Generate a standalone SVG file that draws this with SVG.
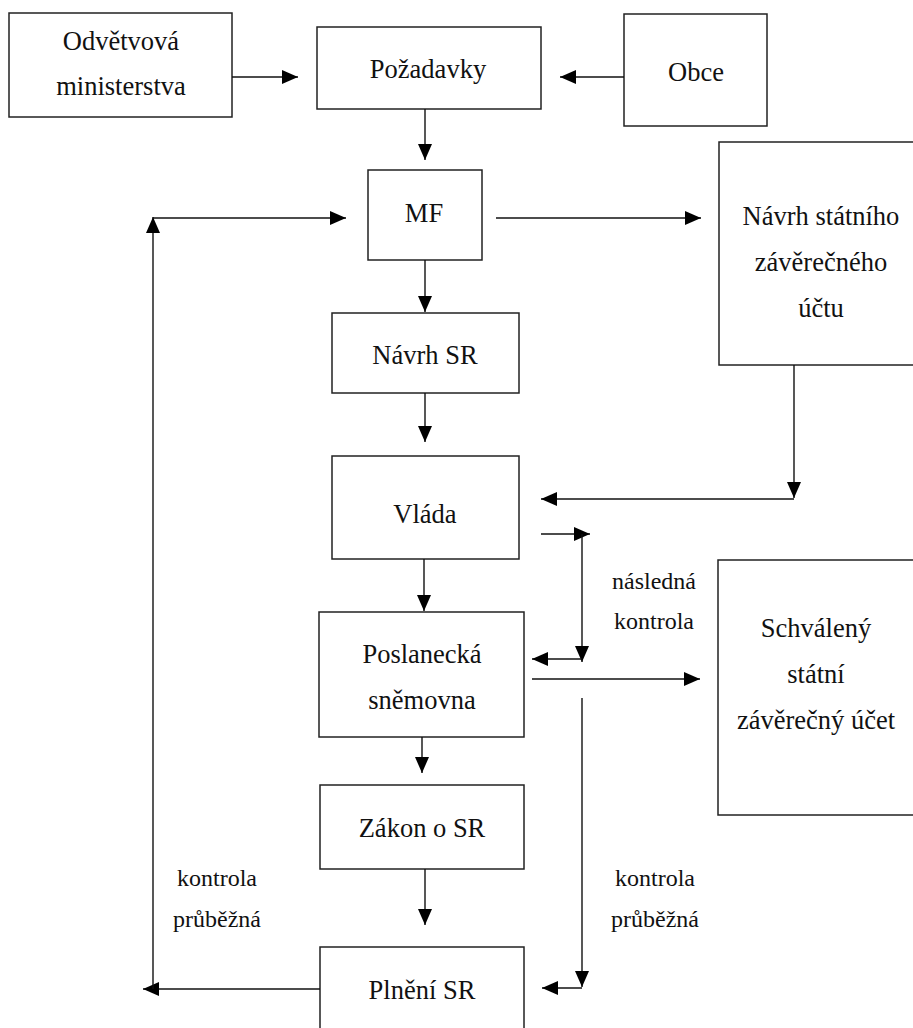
<svg xmlns="http://www.w3.org/2000/svg" width="913" height="1028" viewBox="0 0 913 1028">
  <style>
    .box { fill: #fff; stroke: #222; stroke-width: 1.5; }
    .t { font-size: 26.5px; fill: #111; text-anchor: middle; }
    .l { font-size: 24px; fill: #111; text-anchor: middle; }
    .c { stroke: #111; stroke-width: 1.4; fill: none; }
    .a { marker-end: url(#arr); }
  </style>
  <defs>
    <marker id="arr" markerUnits="userSpaceOnUse" markerWidth="16" markerHeight="14" refX="16" refY="7" orient="auto" viewBox="0 0 16 14">
      <path d="M0,0 L16,7 L0,14 z" fill="#000"/>
    </marker>
  </defs>
  <rect width="913" height="1028" fill="#fff"/>
  <g font-family="Liberation Serif, DejaVu Serif, serif">
  <g id="n-odvetvova">
    <rect class="box" x="9" y="13" width="223" height="104"/>
    <text class="t" x="121" y="50">Odvětvová</text>
    <text class="t" x="121" y="95">ministerstva</text>
  </g>
  <g id="n-pozadavky">
    <rect class="box" x="317" y="27" width="224" height="82"/>
    <text class="t" x="428" y="78">Požadavky</text>
  </g>
  <g id="n-obce">
    <rect class="box" x="624" y="14" width="143" height="112"/>
    <text class="t" x="696" y="81">Obce</text>
  </g>
  <g id="n-mf">
    <rect class="box" x="368" y="170" width="114" height="90"/>
    <text class="t" x="424" y="222">MF</text>
  </g>
  <g id="n-navrh-zu">
    <rect class="box" x="719" y="142" width="210" height="223"/>
    <text class="t" x="821" y="225">Návrh státního</text>
    <text class="t" x="821" y="271">závěrečného</text>
    <text class="t" x="821" y="317">účtu</text>
  </g>
  <g id="n-navrh-sr">
    <rect class="box" x="332" y="313" width="187" height="80"/>
    <text class="t" x="425" y="364">Návrh SR</text>
  </g>
  <g id="n-vlada">
    <rect class="box" x="332" y="456" width="187" height="103"/>
    <text class="t" x="425" y="523">Vláda</text>
  </g>
  <g id="n-poslanecka">
    <rect class="box" x="319" y="612" width="205" height="125"/>
    <text class="t" x="422" y="663">Poslanecká</text>
    <text class="t" x="422" y="709">sněmovna</text>
  </g>
  <g id="n-schvaleny">
    <rect class="box" x="718" y="560" width="210" height="255"/>
    <text class="t" x="816" y="637">Schválený</text>
    <text class="t" x="816" y="683">státní</text>
    <text class="t" x="816" y="729">závěrečný účet</text>
  </g>
  <g id="n-zakon">
    <rect class="box" x="320" y="785" width="204" height="84"/>
    <text class="t" x="422" y="837">Zákon o SR</text>
  </g>
  <g id="n-plneni">
    <rect class="box" x="320" y="947" width="204" height="100"/>
    <text class="t" x="422" y="999">Plnění SR</text>
  </g>

  <g id="connectors">
    <line class="c a" x1="232" y1="77" x2="298" y2="77"/>
    <line class="c a" x1="624" y1="77" x2="560" y2="77"/>
    <line class="c a" x1="425" y1="109" x2="425" y2="160"/>
    <line class="c a" x1="496" y1="218" x2="701" y2="218"/>
    <line class="c a" x1="425" y1="260" x2="425" y2="312"/>
    <line class="c a" x1="425" y1="393" x2="425" y2="442"/>
    <line class="c a" x1="794" y1="365" x2="794" y2="498"/>
    <line class="c a" x1="794" y1="499" x2="541" y2="499"/>
    <line class="c a" x1="424" y1="559" x2="424" y2="611"/>
    <line class="c a" x1="541" y1="534" x2="590" y2="534"/>
    <line class="c a" x1="582" y1="534" x2="582" y2="662"/>
    <line class="c a" x1="582" y1="659" x2="532" y2="659"/>
    <line class="c a" x1="532" y1="679" x2="700" y2="679"/>
    <line class="c a" x1="422" y1="737" x2="422" y2="773"/>
    <line class="c a" x1="425" y1="869" x2="425" y2="925"/>
    <line class="c a" x1="582" y1="698" x2="582" y2="987"/>
    <line class="c a" x1="582" y1="988" x2="542" y2="988"/>
    <line class="c a" x1="320" y1="989" x2="143" y2="989"/>
    <line class="c a" x1="153" y1="989" x2="153" y2="217"/>
    <line class="c a" x1="153" y1="218" x2="346" y2="218"/>
    <text class="l" x="654" y="589">následná</text>
    <text class="l" x="654" y="629">kontrola</text>
    <text class="l" x="217" y="886">kontrola</text>
    <text class="l" x="217" y="927">průběžná</text>
    <text class="l" x="655" y="886">kontrola</text>
    <text class="l" x="655" y="927">průběžná</text>
  </g>
  </g>
</svg>
